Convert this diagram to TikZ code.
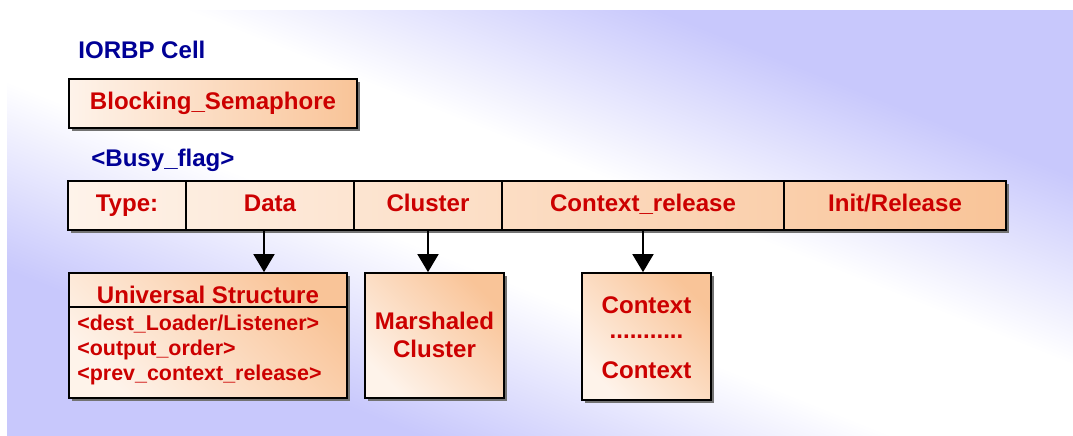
\documentclass[tikz,border=0pt]{standalone}
\usepackage{fontspec}
\setmainfont{Liberation Sans}
\usetikzlibrary{shadows,arrows.meta}

\definecolor{lavender}{RGB}{200,200,252}
\definecolor{peach}{RGB}{249,196,152}
\definecolor{paleorange}{RGB}{254,243,234}
\definecolor{cellred}{RGB}{204,0,0}
\definecolor{cellblue}{RGB}{0,0,150}

\pgfdeclareverticalshading{backdrop}{100bp}{color(0bp)=(lavender); color(39bp)=(lavender);
  color(47bp)=(white); color(53bp)=(white); color(61bp)=(lavender); color(100bp)=(lavender)}

\begin{document}
\begin{tikzpicture}[x=0.02cm, y=-0.02cm,
  boxshadow/.style={drop shadow={shadow xshift=0.06cm, shadow yshift=-0.06cm, fill=black!55, opacity=1}},
  peachbox/.style={draw, line width=1pt, boxshadow, left color=paleorange, right color=peach, inner sep=0pt},
  lowbox/.style={draw, line width=1pt, boxshadow, top color=peach, bottom color=paleorange, shading angle=-45, inner sep=0pt},
  cell/.style={draw, line width=1pt, minimum height=0.98cm, inner sep=0pt, text height=0.35cm, text depth=0.1cm},
  redlabel/.style={text=cellred, font=\bfseries\fontsize{13.7}{16}\selectfont},
  smallred/.style={text=cellred, font=\bfseries\fontsize{12.2}{14}\selectfont, inner sep=0pt},
  bluelabel/.style={text=cellblue, font=\bfseries\fontsize{13.7}{16}\selectfont, inner sep=0pt},
  pointer/.style={line width=1.1pt, -{Triangle[length=0.36cm, width=0.42cm]}}
]

%\draw[help lines, step=50] (0,0) grid (1073,436);
\useasboundingbox (0,0) rectangle (1073,436);

% background
\begin{scope}
\clip (7,10) rectangle (1073,436);
\shade[shading=backdrop, shading angle=-21.8] (-10,-327) rectangle (1090,773);
\end{scope}

\node[bluelabel, anchor=base west] (cellname) at (78,58) {IORBP Cell};

\node[peachbox, redlabel, minimum width=5.76cm, minimum height=0.98cm] (semaphore) at (213,103.5) {Blocking\_Semaphore};

\node[bluelabel, anchor=base west] (busyflag) at (91,166) {<Busy\_flag>};

% type row
\node[peachbox, minimum width=18.76cm, minimum height=0.98cm] (typerow) at (537,205.5) {};
\node[cell, redlabel, minimum width=2.36cm] (typecell) at (127,205.5) {Type:};
\node[cell, redlabel, minimum width=3.36cm] (datacell) at (270,205.5) {Data};
\node[cell, redlabel, minimum width=2.96cm] (clustercell) at (428,205.5) {Cluster};
\node[cell, redlabel, minimum width=5.64cm] (contextcell) at (643,205.5) {Context\_release};
\node[cell, redlabel, minimum width=4.44cm] (initcell) at (895,205.5) {Init/Release};

% boxes below
\node[lowbox, minimum width=5.56cm, minimum height=2.5cm] (ustruct) at (208,335.5) {};
\draw[line width=1pt] ([yshift=-0.7cm]ustruct.north west) -- ([yshift=-0.7cm]ustruct.north east);
\node[redlabel, inner sep=0pt] (ustitle) at (208,294.5) {Universal Structure};
\node[smallred, anchor=base west] (destline) at (77,330) {<dest\_Loader/Listener>};
\node[smallred, anchor=base west] (orderline) at (77,355) {<output\_order>};
\node[smallred, anchor=base west] (prevline) at (77,380) {<prev\_context\_release>};

\node[lowbox, minimum width=2.78cm, minimum height=2.5cm] (marshaled) at (434.5,335.5) {};
\node[redlabel, align=center, inner sep=0pt] (marshaledtext) at (434.5,334.5) {Marshaled\\Cluster};

\node[lowbox, minimum width=2.58cm, minimum height=2.54cm] (contexts) at (646.5,336.5) {};
\node[redlabel, align=center, inner sep=0pt, font=\bfseries\fontsize{13.7}{14}\selectfont] (contextstext) at (646.5,338) {Context\\...........\\[9pt]Context};

% arrows
\draw[pointer] ([xshift=-0.12cm]datacell.south) -- ([xshift=-0.12cm]datacell.south |- ustruct.north);
\draw[pointer] (clustercell.south) -- (clustercell.south |- marshaled.north);
\draw[pointer] (contextcell.south) -- (contextcell.south |- contexts.north);

\end{tikzpicture}
\end{document}
